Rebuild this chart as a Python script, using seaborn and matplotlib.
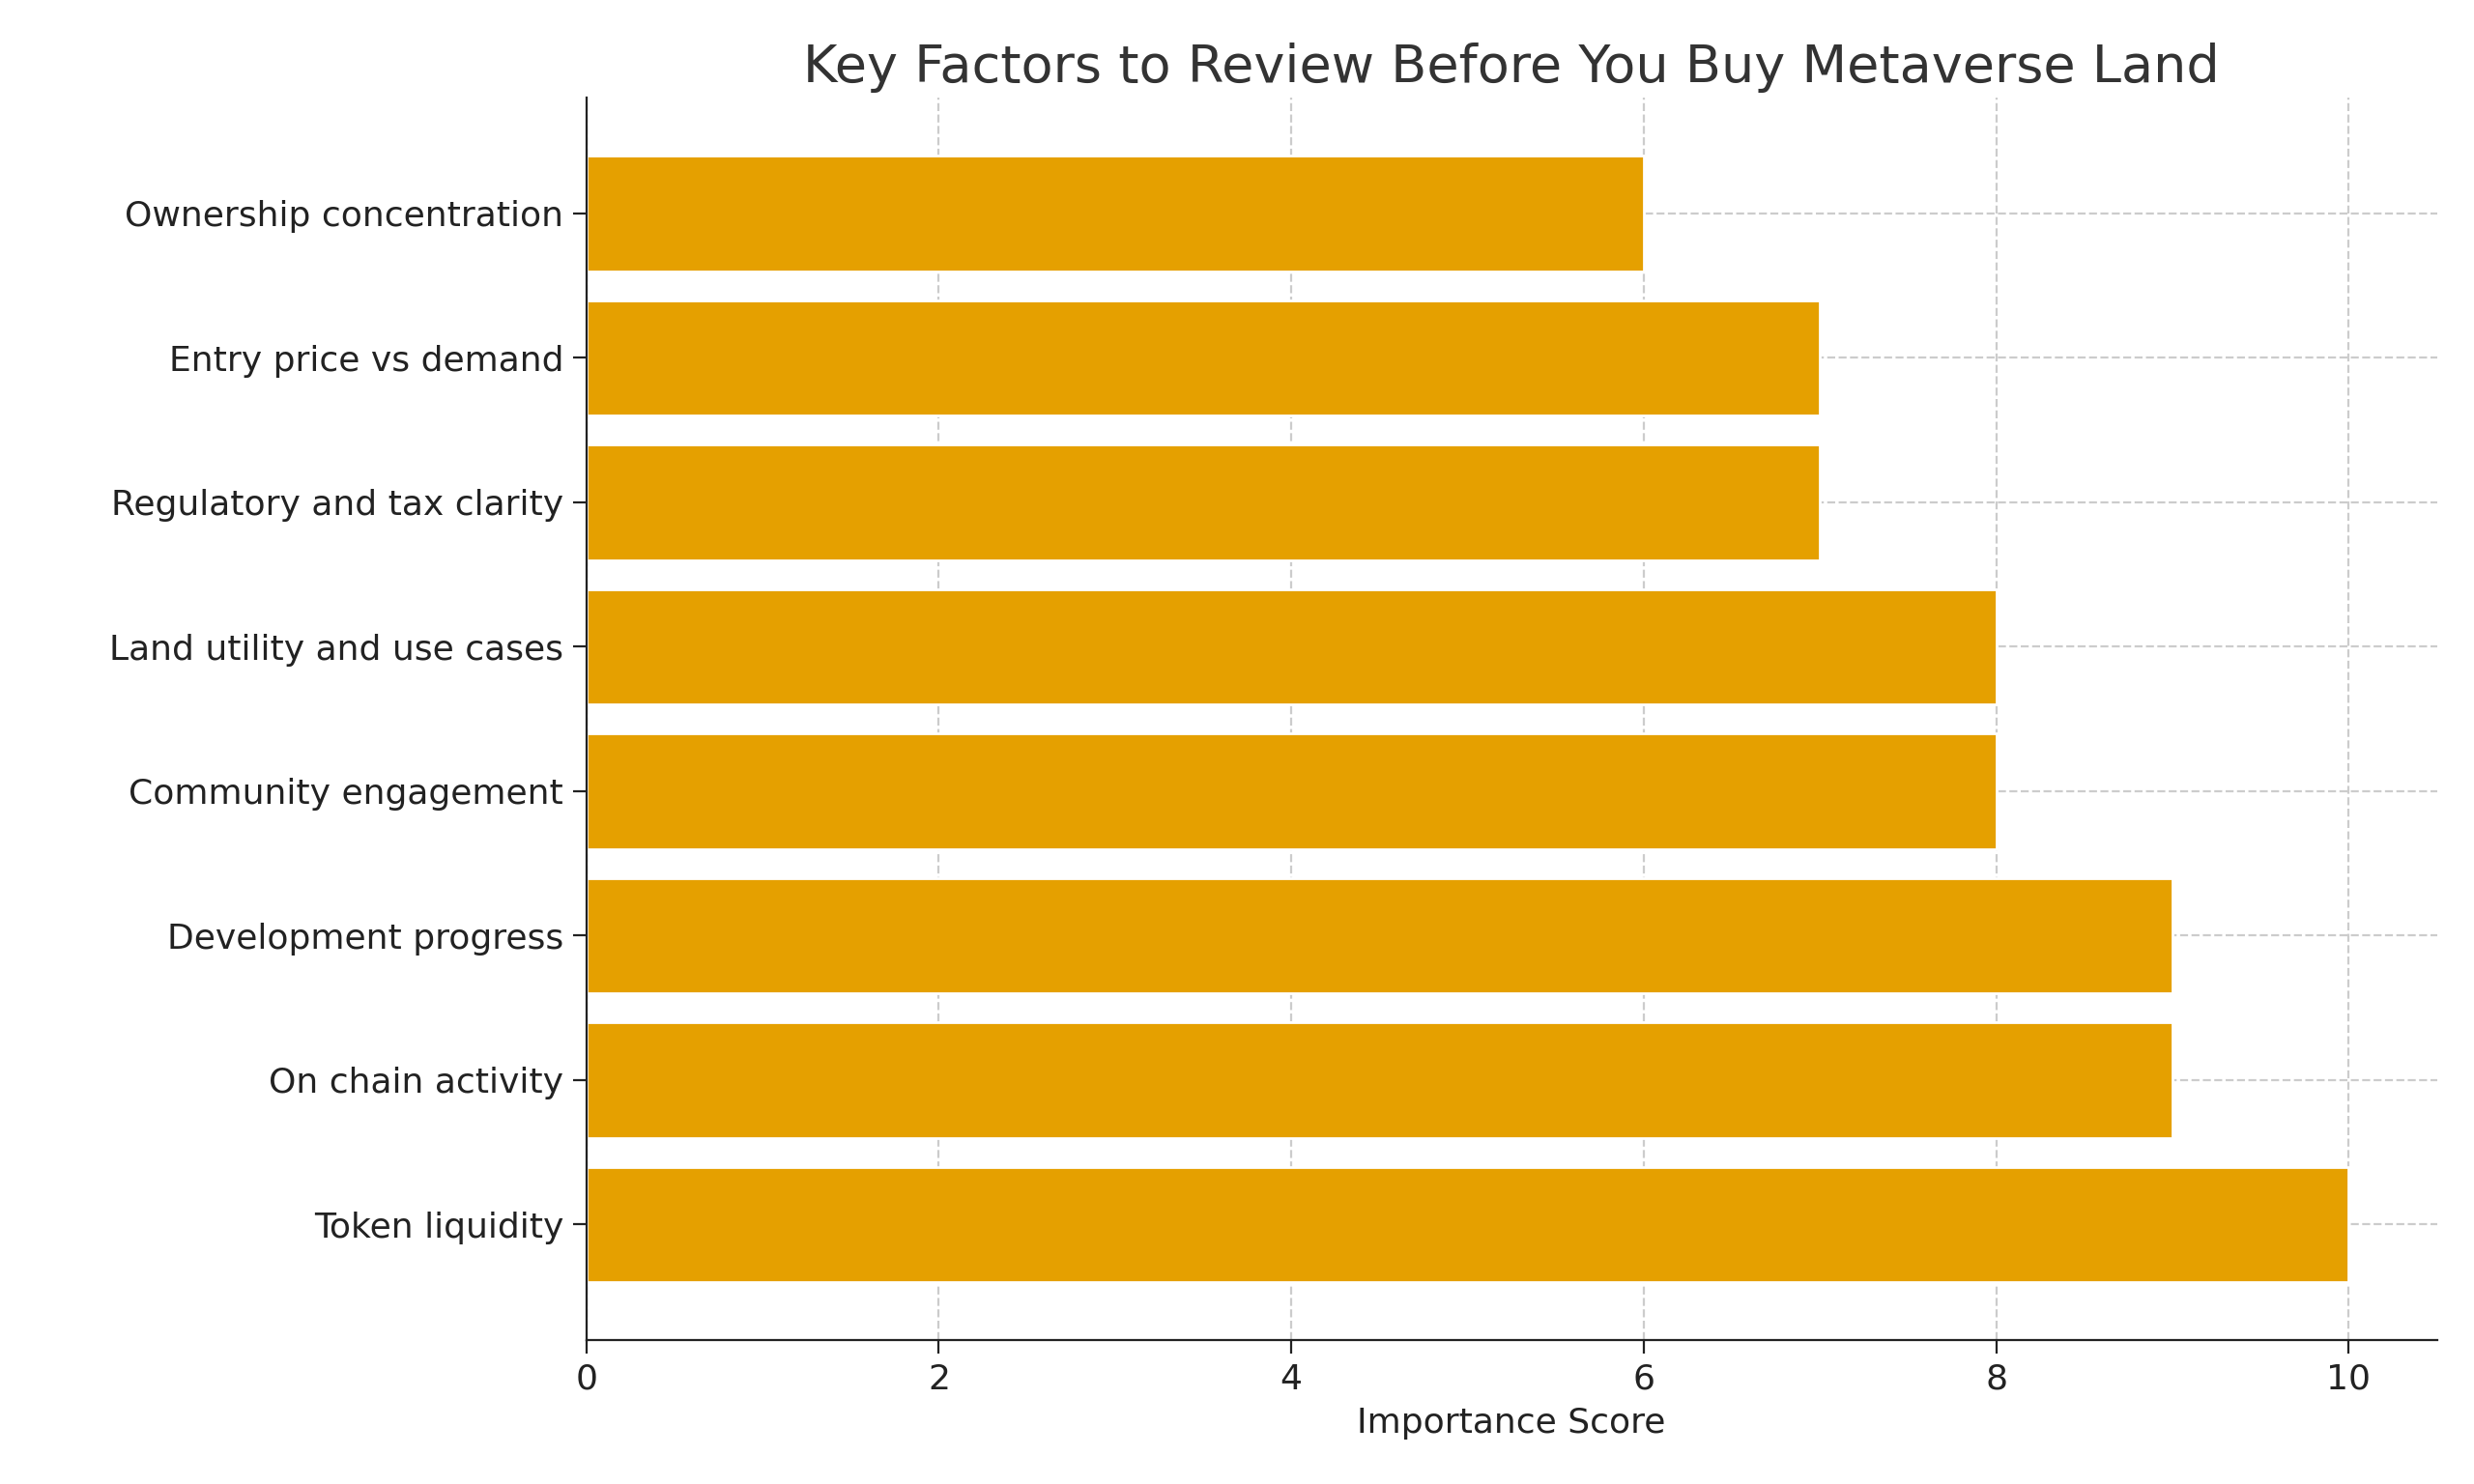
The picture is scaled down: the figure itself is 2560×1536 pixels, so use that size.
import matplotlib
matplotlib.use("Agg")
import matplotlib.pyplot as plt
import pandas as pd
import seaborn as sns

factors = ["Ownership concentration", "Entry price vs demand", "Regulatory and tax clarity",
           "Land utility and use cases", "Community engagement", "Development progress",
           "On chain activity", "Token liquidity"]
scores = [6, 7, 7, 8, 8, 9, 9, 10]

sns.set_style("white")
plt.rcParams['font.family'] = ['DejaVu Sans']

df = pd.DataFrame({"factor": factors, "score": scores})
fig = plt.figure(figsize=(12.8, 7.68), dpi=200)
ax = fig.add_axes([0.237, 0.097, 0.748, 0.837])
sns.barplot(data=df, x="score", y="factor", color="#E5A000", saturation=1, width=0.8, ax=ax, zorder=2)

ax.set_xlim(0, 10.5)
ax.set_ylim(7.8, -0.8)
ax.grid(True, linestyle="--", color="#cccccc", linewidth=0.8, zorder=0)
ax.set_axisbelow(True)
for s in ["top", "right"]:
    ax.spines[s].set_visible(False)
for s in ["left", "bottom"]:
    ax.spines[s].set_color("#222222")
ax.tick_params(axis="both", labelsize=13, colors="#222222", length=5, left=True, bottom=True)
ax.set_ylabel("")
ax.set_xlabel("Importance Score", fontsize=13, color="#222222")
ax.set_title("Key Factors to Review Before You Buy Metaverse Land", fontsize=19.5, color="#333333")
fig.savefig("out.png", dpi=200)
